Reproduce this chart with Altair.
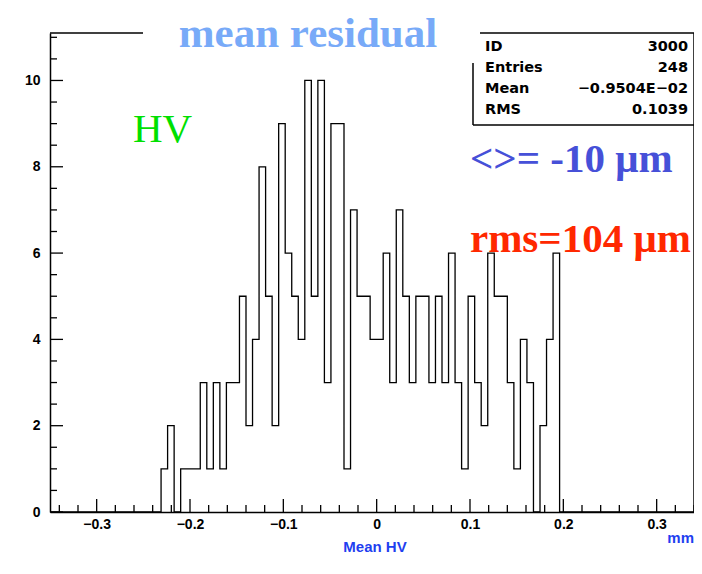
import altair as alt
import pandas as pd

# ---- data -------------------------------------------------------------
bin_low = -0.35
bin_width = 0.007
counts = [0, 0, 0, 0, 0, 0, 0, 0, 0, 0,
          0, 0, 0, 0, 0, 0, 0, 1, 2, 0,
          1, 1, 1, 3, 1, 3, 1, 3, 3, 5,
          2, 4, 8, 5, 2, 9, 6, 5, 4, 10,
          5, 10, 3, 9, 9, 1, 7, 5, 5, 4,
          4, 6, 3, 7, 5, 3, 5, 5, 3, 5,
          3, 6, 3, 1, 5, 3, 2, 6, 5, 5,
          3, 1, 4, 3, 0, 2, 4, 6, 0, 0,
          0, 0, 0, 0, 0, 0, 0, 0, 0, 0,
          0, 0, 0, 0, 0, 0, 0, 0, 0, 0]

x_major = [-0.3, -0.2, -0.1, 0.0, 0.1, 0.2, 0.3]
x_minor = [-0.34, -0.32, -0.28, -0.26, -0.24, -0.22, -0.18, -0.16, -0.14, -0.12,
           -0.08, -0.06, -0.04, -0.02, 0.02, 0.04, 0.06, 0.08, 0.12, 0.14,
           0.16, 0.18, 0.22, 0.24, 0.26, 0.28, 0.32, 0.34]
y_major = [0, 2, 4, 6, 8, 10]
y_minor = [0.5, 1, 1.5, 2.5, 3, 3.5, 4.5, 5, 5.5, 6.5, 7, 7.5, 8.5, 9, 9.5, 10.5, 11]

stats_names = ["ID", "Entries", "Mean", "RMS"]
stats_values = ["3000", "248", "\u22120.9504E\u221202", "0.1039"]

title_text = "mean residual"
hv_text = "HV"
mean_text = "<>= -10 \u03bcm"
rms_text = "rms=104 \u03bcm"
x_title = "Mean HV"
unit_text = "mm"

# ---- build -----------------------------------------------------------
edges = [round(bin_low + i * bin_width, 4) for i in range(len(counts) + 1)]
hist = pd.DataFrame({"x": edges, "n": counts + [0]})

W, H = 644, 479
xs = alt.Scale(domain=[-0.35, 0.34], nice=False, zero=False)
ys = alt.Scale(domain=[0, 11.1], nice=False, zero=False)
SANS = "Liberation Sans"
STAT = "DejaVu Sans"
SERIF = "Liberation Serif"

line = alt.Chart(hist).mark_line(
    interpolate="step-after", color="black", strokeWidth=1.3, clip=True
).encode(
    x=alt.X("x:Q", scale=xs, axis=alt.Axis(
        values=x_major, format=".1~f", ticks=False, grid=False,
        labelFont=SANS, labelFontWeight="bold", labelFontSize=14,
        labelColor="black", labelPadding=5, labelFlush=False,
        domainColor="black", domainWidth=1.5, title=None)),
    y=alt.Y("n:Q", scale=ys, axis=alt.Axis(
        values=y_major, format="d", ticks=False, grid=False,
        labelFont=SANS, labelFontWeight="bold", labelFontSize=14,
        labelColor="black", labelPadding=10, labelFlush=False,
        domainColor="black", domainWidth=1.5, title=None)),
)

def xticks(vals, length):
    return alt.Chart(pd.DataFrame({"x": vals})).mark_rule(
        color="black", strokeWidth=1.3
    ).encode(x=alt.X("x:Q", scale=xs), y=alt.value(H), y2=alt.value(H - length))

def yticks(vals, length):
    return alt.Chart(pd.DataFrame({"n": vals})).mark_rule(
        color="black", strokeWidth=1.3
    ).encode(y=alt.Y("n:Q", scale=ys), x=alt.value(0), x2=alt.value(length))

one = pd.DataFrame({"a": [0]})

def seg(x1, x2, y1, y2):
    return alt.Chart(one).mark_rule(color="black", strokeWidth=1.5).encode(
        x=alt.value(x1), x2=alt.value(x2), y=alt.value(y1), y2=alt.value(y2))

def txt(t, x, y, **kw):
    return alt.Chart(pd.DataFrame({"t": [t]})).mark_text(**kw).encode(
        text="t:N", x=alt.value(x), y=alt.value(y))

layers = [
    line,
    xticks(x_major, 13), xticks(x_minor, 7),
    yticks(y_major, 13), yticks(y_minor, 7),
    seg(0, 93, 0, 0), seg(430, W, 0, 0), seg(W, W, 0, H),
    seg(423, 423, 30, 92), seg(423, W, 92, 92),
    txt(title_text, 258, 14, font=SERIF, fontWeight="bold", fontSize=43,
        color="#78aaf8", align="center", baseline="alphabetic"),
    txt(hv_text, 83, 109, font=SERIF, fontSize=41, color="#00e000",
        align="left", baseline="alphabetic"),
    txt(mean_text, 420, 139, font=SERIF, fontWeight="bold", fontSize=41,
        color="#4650d8", align="left", baseline="alphabetic"),
    txt(rms_text, 420, 219, font=SERIF, fontWeight="bold", fontSize=41,
        color="#ff2800", align="left", baseline="alphabetic"),
    txt(unit_text, W, 505, font=SANS, fontWeight="bold", fontSize=15,
        color="#1f3ff0", align="right", baseline="middle"),
    txt(x_title, 325, 514, font=SANS, fontWeight="bold", fontSize=15,
        color="#1f3ff0", align="center", baseline="middle"),
]

sy = [18, 39, 60, 81]
for name, val, yy in zip(stats_names, stats_values, sy):
    layers.append(txt(name, 435, yy, font=STAT, fontWeight="bold", fontSize=14.5,
                      color="black", align="left", baseline="alphabetic"))
    layers.append(txt(val, 638, yy, font=STAT, fontWeight="bold", fontSize=14.5,
                      color="black", align="right", baseline="alphabetic"))

chart = alt.layer(*layers).properties(
    width=W, height=H,
    padding={"left": 42, "top": 25, "right": 0, "bottom": 47},
    autosize=alt.AutoSizeParams(type="none"),
).configure_view(stroke=None)

chart.save("out.html", embed_options={"renderer": "svg", "actions": False})
